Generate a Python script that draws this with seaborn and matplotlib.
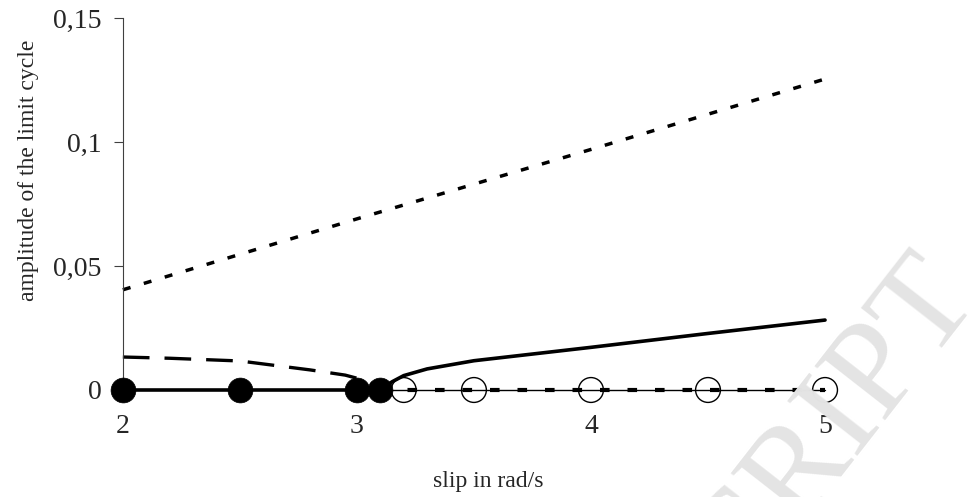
#Import Necessary Libraries
import seaborn as sns
from matplotlib import pyplot as plt

#Data Creation
stable_pts_x = [2, 2.5, 3, 3.1]
unstable_pts_x = [3.2, 3.5, 4, 4.5, 5]

top_x = [2, 3, 4, 5]
top_y = [0.0404, 0.069, 0.097, 0.1254]

dashed_x = [2.0, 2.2, 2.5, 2.8, 2.95, 3.05, 3.1]
dashed_y = [0.0133, 0.0128, 0.0117, 0.0081, 0.006, 0.0035, 0.0]

branch_x = [3.1, 3.15, 3.2, 3.3, 3.5, 4.0, 4.5, 5.0]
branch_y = [0.0, 0.0033, 0.0058, 0.0085, 0.0118, 0.0172, 0.0228, 0.0282]

zero_stable_x = [2, 3.1]
zero_unstable_x = [3.1, 5]

y_ticks = [0, 0.05, 0.1, 0.15]
y_tick_labels = ['0', '0,05', '0,1', '0,15']
x_ticks = [2, 3, 4, 5]

#Style
sns.set_style('white')
plt.rcParams['font.family'] = ['Liberation Serif', 'DejaVu Serif']
plt.rcParams['font.size'] = 17

fig = plt.figure(figsize=(9.75, 4.97), dpi=100)
ax = fig.add_axes([0.126, 0.2153, 0.749, 0.7485])

#Watermark
fig.text(1.006, 0.400, 'ACCEPTED MANUSCRIPT', fontsize=98, color='#e4e4e4',
         rotation=52, rotation_mode='anchor', ha='right', va='baseline', zorder=0)

#Lines
sns.lineplot(x=top_x, y=top_y, ax=ax, color='black', lw=2.5,
             linestyle=(0, (2.3, 4.0)), clip_on=False)
sns.lineplot(x=dashed_x, y=dashed_y, ax=ax, color='black', lw=2.4,
             linestyle=(0, (8.0, 4.5)), clip_on=False)
sns.lineplot(x=branch_x, y=branch_y, ax=ax, color='black', lw=2.6, clip_on=False)
sns.lineplot(x=zero_stable_x, y=[0, 0], ax=ax, color='black', lw=2.6, clip_on=False)
sns.lineplot(x=zero_unstable_x, y=[0, 0], ax=ax, color='black', lw=1.0, clip_on=False)
sns.lineplot(x=zero_unstable_x, y=[0, 0], ax=ax, color='black', lw=3.0,
             linestyle=(0, (2.3, 4.3)), clip_on=False)

#Markers
sns.scatterplot(x=unstable_pts_x, y=[0] * len(unstable_pts_x), ax=ax, s=320,
                facecolor='none', edgecolor='black', linewidth=1.0, zorder=4, clip_on=False)
sns.scatterplot(x=stable_pts_x, y=[0] * len(stable_pts_x), ax=ax, s=320,
                color='black', edgecolor='black', linewidth=0.5, zorder=5, clip_on=False)

#Axes
ax.set_xlim(2, 5.12)
ax.set_ylim(0, 0.15)
ax.set_yticks(y_ticks)
ax.set_yticklabels(y_tick_labels)
ax.set_xticks(x_ticks)
ax.set_xticklabels([str(v) for v in x_ticks])
ax.tick_params(axis='both', labelsize=20)
ax.tick_params(axis='y', direction='out', length=6.5, width=0.8, color='#404040', pad=9, left=True)
ax.tick_params(axis='x', length=0, pad=17.5)
for side in ['top', 'right', 'bottom']:
    ax.spines[side].set_visible(False)
ax.spines['left'].set_color('#404040')
ax.spines['left'].set_linewidth(0.8)
ax.patch.set_alpha(0)

ax.set_xlabel('slip in rad/s', labelpad=23)
ax.set_ylabel('amplitude of the limit cycle')
ax.yaxis.set_label_coords(-0.115, 0.59)

#Save Plot
plt.savefig('out.png', dpi=100)
